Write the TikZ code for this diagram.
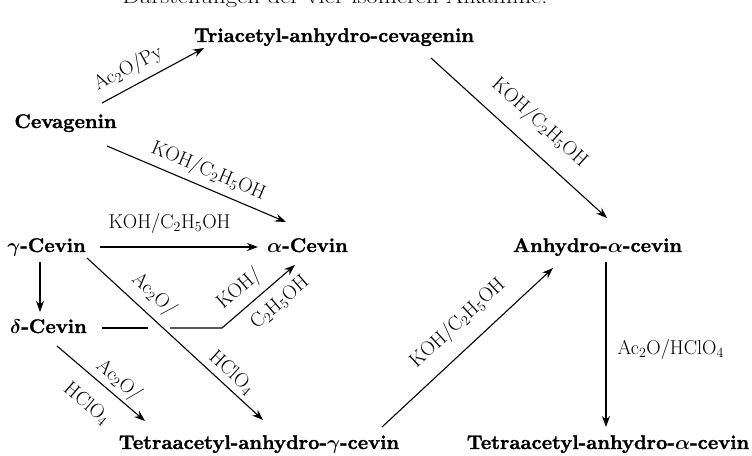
\RequirePackage{fix-cm}
\documentclass[tikz,border=0pt]{standalone}
\usepackage{fontspec}
\usepackage{graphicx}
\usetikzlibrary{arrows.meta}

% heavier bold face for the compound names
\newfontfamily\cmpdface{lmroman10-bold.otf}[FakeBold=1.4]

\tikzset{
  compound/.style={inner sep=0pt, anchor=base,
    font=\fontsize{19.8}{24}\selectfont\cmpdface\boldmath},
  reagent/.style={inner sep=0pt, font=\fontsize{20}{24}\selectfont},
  rxn/.style={line width=1.1pt, -{Stealth[length=11pt,width=8pt]}},
  plain/.style={line width=1.1pt},
}

\newcommand{\sub}[1]{\textsubscript{#1}}

\begin{document}
\begin{tikzpicture}[x=1pt,y=-1pt]
\useasboundingbox (0,0) rectangle (752,455);
\clip (0,0) rectangle (752,455);

% heading line, running off the top edge
\node[reagent, anchor=base] (head) at (335,3.5)
  {\resizebox{425pt}{\height}{Darstellungen der vier isomeren Alkamine.}};

% compounds
\node[compound] (tri)  at (334,42)  {Triacetyl-anhydro-cevagenin};
\node[compound] (cev)  at (65.5,128) {Cevagenin};
\node[compound] (gam)  at (46.5,252) {$\gamma$-Cevin};
\node[compound] (alp)  at (307.5,252) {$\alpha$-Cevin};
\node[compound] (del)  at (48.5,333) {$\delta$-Cevin};
\node[compound] (anh)  at (597.5,252) {Anhydro-$\alpha$-cevin};
\node[compound] (tgam) at (259,449) {Tetraacetyl-anhydro-$\gamma$-cevin};
\node[compound] (talp) at (608,449) {Tetraacetyl-anhydro-$\alpha$-cevin};

% Cevagenin -> Triacetyl-anhydro-cevagenin
\draw[rxn] ([shift={(36.5,-25)}]cev.base) --
  node[reagent, sloped, above=7pt, pos=0.34] {Ac\sub{2}O/Py}
  ([shift={(-130,6)}]tri.base);

% Cevagenin -> alpha-Cevin
\draw[rxn] ([shift={(41.5,18)}]cev.base) --
  node[reagent, sloped, above=5.5pt, pos=0.53] {KOH/C\sub{2}H\sub{5}OH}
  ([shift={(-21.5,-30)}]alp.base);

% gamma-Cevin -> alpha-Cevin
\draw[rxn] ([shift={(53.5,-5)}]gam.base) --
  node[reagent, above=12.5pt, pos=0.44] {KOH/C\sub{2}H\sub{5}OH}
  ([shift={(-49.5,-5)}]alp.base);

% gamma-Cevin -> delta-Cevin
\draw[rxn] ([shift={(-6.5,10)}]gam.base) -- ([shift={(-8.5,-21)}]del.base);

% gamma-Cevin -> Tetraacetyl-anhydro-gamma-cevin
\draw[rxn] ([shift={(40.5,6)}]gam.base) --
  node[reagent, sloped, above=7.5pt, pos=0.31] {Ac\sub{2}O/}
  node[reagent, sloped, above=4.5pt, pos=0.77] {HClO\sub{4}}
  ([shift={(4,-29)}]tgam.base);

% delta-Cevin -> alpha-Cevin, broken where it passes under the line above
\coordinate (brkL) at (148,328);
\coordinate (brkR) at (170,328);
\coordinate (bend) at (222,328);
\draw[plain] ([shift={(53.5,-5)}]del.base) -- (brkL);
\draw[rxn] (brkR) -- (bend) --
  node[reagent, sloped, above=7.5pt, pos=0.40] {KOH/}
  node[reagent, sloped, below=9.5pt, pos=0.625] {C\sub{2}H\sub{5}OH}
  ([shift={(-12.5,13)}]alp.base);

% delta-Cevin -> Tetraacetyl-anhydro-gamma-cevin
\draw[rxn] ([shift={(8.5,13)}]del.base) --
  node[reagent, sloped, above=3pt, pos=0.60] {Ac\sub{2}O/}
  node[reagent, sloped, below=15.5pt, pos=0.52] {HClO\sub{4}}
  ([shift={(-114,-28)}]tgam.base);

% Tetraacetyl-anhydro-gamma-cevin -> Anhydro-alpha-cevin
\draw[rxn] ([shift={(123,-22)}]tgam.base) --
  node[reagent, sloped, above=13.5pt, pos=0.54] {KOH/C\sub{2}H\sub{5}OH}
  ([shift={(-44.5,16)}]anh.base);

% Triacetyl-anhydro-cevagenin -> Anhydro-alpha-cevin
\draw[rxn] ([shift={(97,16)}]tri.base) --
  node[reagent, sloped, above=14.5pt, pos=0.52] {KOH/C\sub{2}H\sub{5}OH}
  ([shift={(9.5,-34)}]anh.base);

% Anhydro-alpha-cevin -> Tetraacetyl-anhydro-alpha-cevin
\draw[rxn] ([shift={(8.5,10)}]anh.base) --
  node[reagent, right=11pt, pos=0.53] {Ac\sub{2}O/HClO\sub{4}}
  ([shift={(-2,-22)}]talp.base);
\end{tikzpicture}
\end{document}
